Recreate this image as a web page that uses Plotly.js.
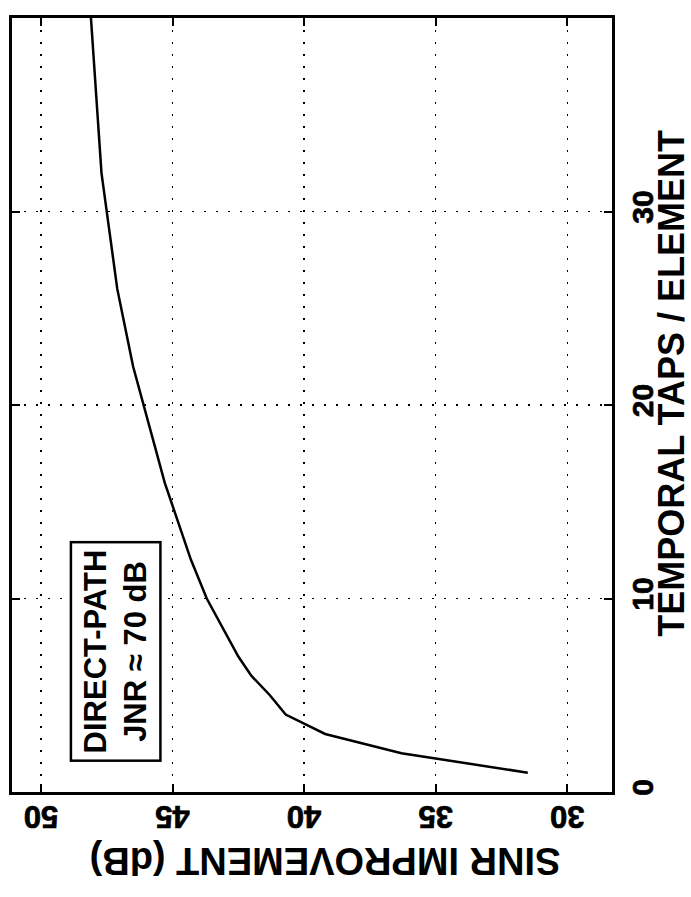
<!DOCTYPE html>
<html>
<head>
<meta charset="utf-8">
<script src="https://cdn.plot.ly/plotly-3.0.1.min.js"></script>
<style>
html,body{margin:0;padding:0;background:#fff;}
#chart{width:691px;height:897px;}
#chart .xtick text, #chart .ytick text {stroke:#000; stroke-width:0.7px;}
</style>
</head>
<body>
<div id="chart"></div>
<script>
// Data: temporal taps per element vs SINR improvement (dB)
const taps = [1, 2, 3, 4, 5, 6, 7, 8, 10, 12, 14, 16, 18, 20, 22, 24, 26, 28, 30, 32, 34, 36, 38, 40];
const sinrImprovement = [31.5, 36.3, 39.2, 40.7, 41.3, 42.0, 42.5, 42.9, 43.7, 44.3, 44.8, 45.3, 45.7, 46.1, 46.5, 46.8, 47.1, 47.3, 47.5, 47.7, 47.8, 47.9, 48.0, 48.1];
const sinrTicks = [30, 35, 40, 45, 50];
const tapTicks = [0, 10, 20, 30, 40];
const sinrTitle = 'SINR IMPROVEMENT (dB)';
const tapsTitle = 'TEMPORAL TAPS / ELEMENT';
const boxText = 'DIRECT-PATH<br>JNR \u2248 70 dB';

const FONT = 'Liberation Sans, Arial, Helvetica, sans-serif';

const trace = {
  x: sinrImprovement,
  y: taps,
  mode: 'lines',
  line: {color: '#000', width: 2.5},
  hoverinfo: 'skip'
};

const layout = {
  width: 691, height: 897,
  margin: {l: 12, r: 79, t: 18, b: 105},
  paper_bgcolor: '#fff', plot_bgcolor: '#fff',
  showlegend: false,
  xaxis: {
    range: [51.1, 28.3],
    tickvals: sinrTicks,
    ticktext: sinrTicks.map(v => '<b>' + v + '</b>'),
    tickangle: 180,
    ticks: 'inside', ticklen: 8, tickwidth: 2, tickcolor: '#000',
    showline: true, linewidth: 3, linecolor: '#000', mirror: 'ticks',
    showgrid: true, gridcolor: '#000', gridwidth: 1.5, griddash: '2px,10px',
    zeroline: false,
    tickfont: {family: FONT, size: 31, color: '#000', weight: 700},
    ticklabelstandoff: 5
  },
  yaxis: {
    range: [0, 40],
    side: 'right',
    tickvals: tapTicks,
    ticktext: tapTicks.map(v => '<b>' + v + '</b>'),
    tickangle: -90,
    ticks: 'inside', ticklen: 8, tickwidth: 2, tickcolor: '#000',
    showline: true, linewidth: 3, linecolor: '#000', mirror: 'ticks',
    showgrid: true, gridcolor: '#000', gridwidth: 1.5, griddash: '2px,10px',
    zeroline: false,
    tickfont: {family: FONT, size: 30, color: '#000', weight: 700},
    ticklabelstandoff: 2
  },
  annotations: [
    {
      xref: 'paper', yref: 'paper', x: 0.522, y: -0.09,
      text: '<b>' + sinrTitle + '</b>', showarrow: false, textangle: 180,
      font: {family: FONT, size: 38, color: '#000'},
      xanchor: 'center', yanchor: 'middle'
    },
    {
      xref: 'paper', yref: 'paper', x: 1.099, y: 0.528,
      text: '<b>' + tapsTitle + '</b>', showarrow: false, textangle: -90,
      font: {family: FONT, size: 36, color: '#000'},
      xanchor: 'center', yanchor: 'middle'
    },
    {
      xref: 'paper', yref: 'paper', x: 0.173, y: 0.182,
      text: '<b>' + boxText + '</b>', showarrow: false, textangle: -90,
      font: {family: FONT, size: 31, color: '#000'},
      align: 'center',
      bordercolor: '#000', borderwidth: 2.5, borderpad: 6, bgcolor: '#fff',
      xanchor: 'center', yanchor: 'middle'
    }
  ]
};

Plotly.newPlot('chart', [trace], layout, {displayModeBar: false, staticPlot: true});
</script>
</body>
</html>
